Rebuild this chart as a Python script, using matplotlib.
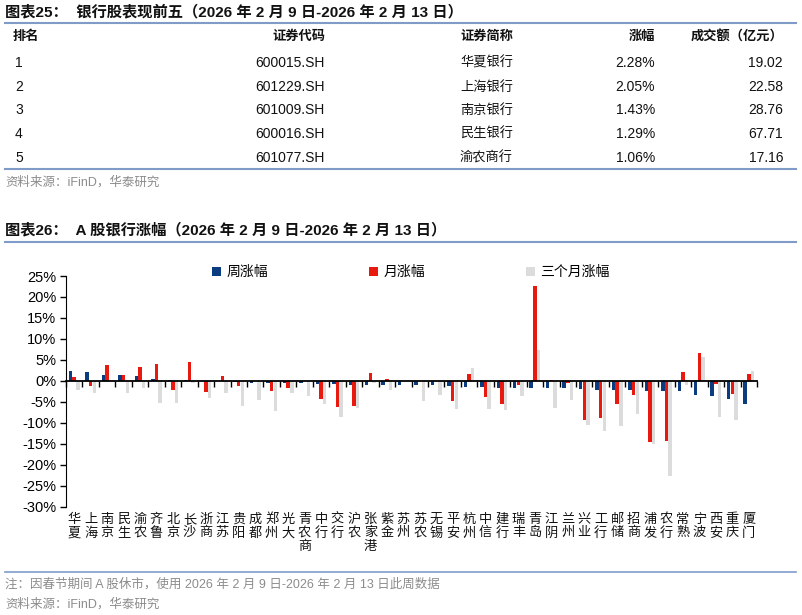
import matplotlib
matplotlib.use('Agg')
import matplotlib.pyplot as plt
from matplotlib.lines import Line2D
import matplotlib.transforms as mtransforms
import numpy as np

plt.rcParams['font.family'] = ['Liberation Sans', 'Noto Sans CJK SC']
plt.rcParams['axes.unicode_minus'] = False

# table: top five bank stocks of the week
ranks = ['1', '2', '3', '4', '5']
codes = ['600015.SH', '601229.SH', '601009.SH', '600016.SH', '601077.SH']
names = ['华夏银行', '上海银行', '南京银行', '民生银行', '渝农商行']
pct = ['2.28%', '2.05%', '1.43%', '1.29%', '1.06%']
amount = ['19.02', '22.58', '28.76', '67.71', '17.16']

# chart: A-share bank returns (%)
banks = ['华夏', '上海', '南京', '民生', '渝农', '齐鲁', '北京', '长沙', '浙商', '江苏',
         '贵阳', '成都', '郑州', '光大', '青农商', '中行', '交行', '沪农', '张家港', '紫金',
         '苏州', '苏农', '无锡', '平安', '杭州', '中信', '建行', '瑞丰', '青岛', '江阴',
         '兰州', '兴业', '工行', '邮储', '招商', '浦发', '农行', '常熟', '宁波', '西安',
         '重庆', '厦门']
week = [2.28, 2.05, 1.43, 1.29, 1.06, 0.5, 0.2, 0.1, 0.0, 0.0,
        -0.2, -0.4, -0.5, -0.5, -0.5, -0.8, -0.8, -0.9, -1.0, -1.0,
        -1.0, -1.0, -1.0, -1.2, -1.4, -1.4, -1.6, -1.6, -1.6, -1.7,
        -1.7, -1.9, -2.1, -2.1, -2.2, -2.3, -2.5, -2.5, -3.4, -3.6,
        -4.4, -5.4]
month = [0.9, -1.2, 3.9, 1.5, 3.3, 4.0, -2.2, 4.4, -2.6, 1.2,
         -1.3, 0.0, -2.5, -1.8, 0.0, -4.3, -6.2, -6.1, 1.9, 0.4,
         0.0, 0.0, 0.0, -4.8, 1.7, -3.9, -5.4, -1.1, 22.5, 0.2,
         -0.4, -9.3, -8.9, -5.6, -3.4, -14.5, -14.4, 2.1, 6.6, -0.8,
         -3.2, 1.6]
three_month = [-2.1, -2.8, 0.3, -2.8, -1.7, -5.2, -5.3, -0.6, -4.2, -2.8,
               -6.0, -4.6, -7.3, -3.0, -3.7, -5.6, -8.7, -6.5, -0.5, -2.1,
               0.0, -4.9, -3.4, -6.7, 3.1, -6.6, -6.9, -3.7, 7.3, -6.5,
               -4.5, -10.5, -11.9, -10.7, -8.0, -15.1, -22.7, -1.0, 5.7, -8.7,
               -9.3, 2.3]

W, H = 802, 615
fig = plt.figure(figsize=(W / 100, H / 100), dpi=100)


def fx(x):
    return x / W


def fy(y):
    return 1 - y / H


LINE = '#7F9CC8'
TXT = '#111111'
GREY = '#8C8C8C'
BLUE = '#0B3C80'
RED = '#E8190E'
LIGHT = '#DCDCDC'


def hline(y, lw=1.5):
    fig.add_artist(Line2D([fx(5), fx(796)], [fy(y), fy(y)], color=LINE, lw=lw))


# ---- table part ----
fig.text(fx(5), fy(12), '图表25：  银行股表现前五（2026 年 2 月 9 日-2026 年 2 月 13 日）',
         fontsize=11, fontweight='bold', va='center', color=TXT)
hline(23)
head_y = 37
fig.text(fx(13), fy(head_y), '排名', fontsize=9.5, fontweight='bold', va='center', color=TXT)
fig.text(fx(325), fy(head_y), '证券代码', fontsize=9.5, fontweight='bold', va='center', ha='right', color=TXT)
fig.text(fx(513), fy(head_y), '证券简称', fontsize=9.5, fontweight='bold', va='center', ha='right', color=TXT)
fig.text(fx(655), fy(head_y), '涨幅', fontsize=9.5, fontweight='bold', va='center', ha='right', color=TXT)
fig.text(fx(783), fy(head_y), '成交额（亿元）', fontsize=9.5, fontweight='bold', va='center', ha='right', color=TXT)

row_y = [63, 87, 110, 134, 158]
for y, r, c, n, p, a in zip(row_y, ranks, codes, names, pct, amount):
    fig.text(fx(15), fy(y), r, fontsize=10, va='center', color=TXT)
    fig.text(fx(325), fy(y), c, fontsize=10, va='center', ha='right', color=TXT)
    fig.text(fx(513), fy(y), n, fontsize=9.5, va='center', ha='right', color=TXT)
    fig.text(fx(655), fy(y), p, fontsize=10, va='center', ha='right', color=TXT)
    fig.text(fx(783), fy(y), a, fontsize=10, va='center', ha='right', color=TXT)
hline(169)
fig.text(fx(5), fy(182), '资料来源：iFinD，华泰研究', fontsize=9, va='center', color=GREY)

# ---- chart part ----
fig.text(fx(5), fy(230), '图表26：  A 股银行涨幅（2026 年 2 月 9 日-2026 年 2 月 13 日）',
         fontsize=11, fontweight='bold', va='center', color=TXT)
hline(242)

ax = fig.add_axes([fx(66), fy(506.7), (757 - 66) / W, (506.7 - 276) / H])
x = np.arange(1, len(banks) + 1)
bw = 0.21
gap = 0.223
ax.bar(x - gap, week, bw, color=BLUE, label='周涨幅', zorder=2)
ax.bar(x, month, bw, color=RED, label='月涨幅', zorder=2)
ax.bar(x + gap, three_month, bw, color=LIGHT, label='三个月涨幅', zorder=2)

ax.set_xlim(0.5, len(banks) + 0.5)
ax.set_ylim(-30, 25)
ax.set_yticks(np.arange(-30, 26, 5))
ax.set_yticklabels([f'{v}%' for v in range(-30, 26, 5)], fontsize=10.5)
ax.tick_params(axis='y', direction='out', length=4, width=1, pad=3)

ax.spines['top'].set_visible(False)
ax.spines['right'].set_visible(False)
ax.spines['bottom'].set_position(('data', 0))
ax.spines['bottom'].set_linewidth(1.3)
ax.set_xticks(np.arange(0.5, len(banks) + 1, 1))
ax.set_xticklabels([])
ax.tick_params(axis='x', direction='out', length=4, width=1)

trans = mtransforms.blended_transform_factory(ax.transData, ax.transAxes)
for xi, b in zip(x, banks):
    ax.text(xi, -0.03, '\n'.join(b), transform=trans, ha='center', va='top',
            fontsize=9.5, linespacing=1.15, color=TXT)

ax.legend(loc='center', bbox_to_anchor=(fx(411), fy(272)), bbox_transform=fig.transFigure,
          ncol=3, frameon=False, fontsize=10, handlelength=0.6, handleheight=0.6,
          handletextpad=0.4, columnspacing=7.3)

hline(572, lw=1.2)
fig.text(fx(5), fy(584), '注：因春节期间 A 股休市，使用 2026 年 2 月 9 日-2026 年 2 月 13 日此周数据',
         fontsize=9, va='center', color=GREY)
fig.text(fx(5), fy(604), '资料来源：iFinD，华泰研究', fontsize=9, va='center', color=GREY)

fig.savefig('out.png', dpi=100)
